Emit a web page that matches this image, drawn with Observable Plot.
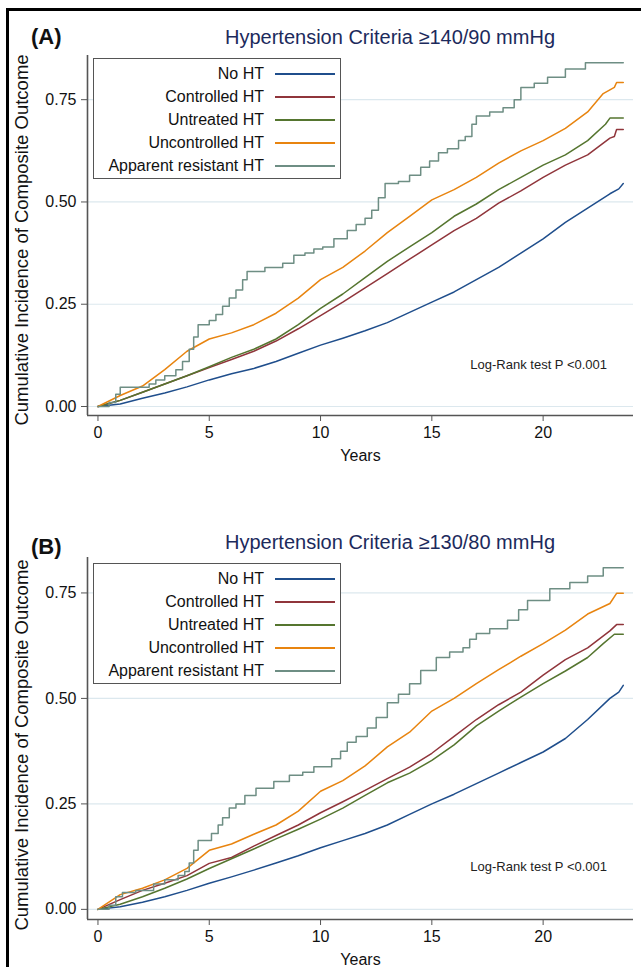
<!DOCTYPE html>
<html>
<head>
<meta charset="utf-8">
<script src="https://cdn.jsdelivr.net/npm/d3@7"></script>
<script src="https://cdn.jsdelivr.net/npm/@observablehq/plot@0.6"></script>
<style>
  body { margin: 0; background: #fff; }
  #root { position: relative; width: 641px; height: 967px; overflow: hidden; background: #fff;
          font-family: "Liberation Sans", Arial, sans-serif; color: #111; }
  .frameline { position: absolute; left: 6px; top: 8px; width: 700px; height: 1000px;
               border-top: 3px solid #000; border-left: 3px solid #000; }
  .panel-tag { position: absolute; font-weight: bold; font-size: 22px; line-height: 24px; }
  .title { position: absolute; width: 600px; text-align: center; font-size: 20px; line-height: 24px; color: #1c2a5c; }
  .ylab { position: absolute; width: 420px; text-align: center; font-size: 18.5px; line-height: 20px;
          transform-origin: center center; transform: rotate(-90deg); white-space: nowrap; color: #111; }
  .legend { position: absolute; width: 248px; height: 121px; border: 1px solid #555; background: #fff; box-sizing: border-box; }
  .legend .lab { position: absolute; right: 76px; font-size: 16px; line-height: 18px; white-space: nowrap; color: #111; }
  .legend .sw { position: absolute; left: 181px; width: 60px; height: 2px; }
  .plotbox { position: absolute; left: 0; }
</style>
</head>
<body>
<div id="root">
  <div class="frameline"></div>
</div>
<script>
// ---------- categories, colours, ticks ----------
const groups = ["No HT", "Controlled HT", "Untreated HT", "Uncontrolled HT", "Apparent resistant HT"];
const colors = ["#1f4e8c", "#90353b", "#55752f", "#e8840f", "#6e8e84"];
const stepGroup = "Apparent resistant HT";
const xTicks = [0, 5, 10, 15, 20];
const yTicks = [0, 0.25, 0.5, 0.75];
const xLabel = "Years";
const yLabel = "Cumulative Incidence of Composite Outcome";
const noteText = "Log-Rank test P <0.001";

// ---------- Panel A: ≥140/90 mmHg  [years, cumulative incidence] ----------
const titleA = "Hypertension Criteria ≥140/90 mmHg";
const tagA = "(A)";
const aNoHT = [[0,0],[1,0.006],[2,0.02],[3,0.033],[4,0.048],[5,0.065],[6,0.08],[7,0.093],[8,0.11],[9,0.13],[10,0.15],[11,0.167],[12,0.185],[13,0.205],[14,0.23],[15,0.255],[16,0.28],[17,0.31],[18,0.34],[19,0.375],[20,0.41],[21,0.45],[22,0.485],[23,0.52],[23.4,0.532],[23.6,0.545]];
const aControlled = [[0,0],[1,0.015],[2,0.035],[3,0.055],[4,0.075],[5,0.095],[6,0.115],[7,0.135],[8,0.16],[9,0.19],[10,0.222],[11,0.255],[12,0.29],[13,0.325],[14,0.36],[15,0.395],[16,0.43],[17,0.46],[18,0.497],[19,0.527],[20,0.56],[21,0.59],[22,0.615],[23,0.656],[23.2,0.66],[23.3,0.677],[23.6,0.677]];
const aUntreated = [[0,0],[1,0.015],[2,0.035],[3,0.055],[4,0.075],[5,0.097],[6,0.12],[7,0.14],[8,0.165],[9,0.2],[10,0.24],[11,0.275],[12,0.315],[13,0.355],[14,0.39],[15,0.425],[16,0.465],[17,0.495],[18,0.53],[19,0.56],[20,0.59],[21,0.615],[22,0.65],[22.8,0.69],[23.0,0.705],[23.6,0.705]];
const aUncontrolled = [[0,0],[1,0.027],[2,0.05],[3,0.09],[4,0.135],[5,0.165],[6,0.18],[7,0.2],[8,0.228],[9,0.265],[10,0.31],[11,0.34],[12,0.38],[13,0.425],[14,0.465],[15,0.505],[16,0.53],[17,0.56],[18,0.595],[19,0.625],[20,0.65],[21,0.68],[22,0.72],[22.7,0.765],[23.2,0.78],[23.3,0.792],[23.6,0.792]];
const aResistant = [[0,0],[0.5,0.01],[0.8,0.03],[1.0,0.047],[2.3,0.055],[2.6,0.065],[3.0,0.075],[3.5,0.09],[3.8,0.11],[4.1,0.14],[4.3,0.17],[4.5,0.2],[5.0,0.21],[5.3,0.225],[5.6,0.245],[5.9,0.265],[6.2,0.285],[6.5,0.31],[6.7,0.33],[7.5,0.34],[8.3,0.35],[8.8,0.37],[9.3,0.375],[9.7,0.385],[10.1,0.39],[10.6,0.41],[11.2,0.43],[11.6,0.445],[12.0,0.46],[12.3,0.48],[12.6,0.51],[12.9,0.545],[13.5,0.55],[14.0,0.565],[14.5,0.585],[14.9,0.6],[15.3,0.62],[15.7,0.63],[16.2,0.65],[16.5,0.66],[16.8,0.69],[17.0,0.71],[17.6,0.72],[18.2,0.73],[18.7,0.75],[19.0,0.78],[19.6,0.79],[20.2,0.805],[21.0,0.825],[21.9,0.84],[23.6,0.84]];

// ---------- Panel B: ≥130/80 mmHg ----------
const titleB = "Hypertension Criteria ≥130/80 mmHg";
const tagB = "(B)";
const bNoHT = [[0,0],[1,0.006],[2,0.017],[3,0.03],[4,0.045],[5,0.062],[6,0.077],[7,0.093],[8,0.11],[9,0.127],[10,0.146],[11,0.163],[12,0.18],[13,0.2],[14,0.225],[15,0.25],[16,0.273],[17,0.298],[18,0.323],[19,0.348],[20,0.373],[21,0.405],[22,0.45],[23,0.5],[23.4,0.515],[23.6,0.531]];
const bControlled = [[0,0],[1,0.023],[2,0.045],[3,0.062],[4,0.08],[5,0.109],[6,0.123],[7,0.15],[8,0.175],[9,0.2],[10,0.229],[11,0.255],[12,0.282],[13,0.31],[14,0.337],[15,0.37],[16,0.41],[17,0.45],[18,0.485],[19,0.515],[20,0.555],[21,0.592],[22,0.62],[23,0.66],[23.3,0.675],[23.6,0.675]];
const bUntreated = [[0,0],[1,0.012],[2,0.03],[3,0.05],[4,0.072],[5,0.097],[6,0.12],[7,0.143],[8,0.167],[9,0.19],[10,0.214],[11,0.24],[12,0.27],[13,0.3],[14,0.323],[15,0.353],[16,0.39],[17,0.435],[18,0.47],[19,0.503],[20,0.535],[21,0.565],[22,0.597],[22.7,0.63],[23.2,0.652],[23.6,0.652]];
const bUncontrolled = [[0,0],[1,0.035],[2,0.05],[3,0.07],[4,0.097],[5,0.14],[6,0.155],[7,0.178],[8,0.2],[9,0.233],[10,0.28],[11,0.305],[12,0.34],[13,0.385],[14,0.42],[15,0.47],[16,0.5],[17,0.535],[18,0.568],[19,0.6],[20,0.63],[21,0.662],[22,0.7],[23,0.725],[23.3,0.749],[23.6,0.749]];
const bResistant = [[0,0],[0.5,0.01],[0.8,0.03],[1.1,0.04],[1.7,0.045],[2.5,0.06],[3.0,0.07],[3.6,0.08],[3.9,0.09],[4.1,0.11],[4.3,0.14],[4.5,0.163],[5.1,0.18],[5.4,0.2],[5.6,0.217],[5.9,0.24],[6.2,0.25],[6.6,0.27],[7.1,0.287],[7.9,0.303],[8.6,0.318],[9.2,0.325],[9.7,0.338],[10.5,0.357],[10.9,0.375],[11.2,0.396],[11.6,0.41],[12.1,0.43],[12.5,0.455],[13.0,0.49],[13.5,0.51],[14.0,0.535],[14.5,0.566],[15.2,0.597],[15.8,0.61],[16.4,0.62],[16.7,0.64],[17.0,0.654],[17.6,0.665],[18.4,0.685],[18.9,0.71],[19.3,0.732],[20.3,0.76],[21.2,0.775],[22.0,0.79],[22.7,0.81],[23.6,0.81]];

// annotation positions (data units)
const noteA = [{t: 19.8, v: 0.103, text: noteText}];
const noteB = [{t: 19.8, v: 0.102, text: noteText}];

const xDomain = [-0.47, 24.06];
const yDomainA = [-0.022, 0.858];
const yDomainB = [-0.024, 0.834];

const root = document.getElementById("root");

function rows(seriesList) {
  return groups.flatMap((g, i) => seriesList[i].map(([t, v]) => ({t, v, g})));
}

function panel({top, height, mTop, mBottom, yDomain, series, note, tag, title, tagTop, titleTop, legendTop, ylabCenter}) {
  const data = rows(series);
  const plot = Plot.plot({
    width: 641,
    height,
    marginTop: mTop,
    marginBottom: mBottom,
    marginLeft: 87,
    marginRight: 8,
    style: {fontFamily: '"Liberation Sans", Arial, sans-serif', fontSize: "16px", color: "#111", background: "transparent", overflow: "visible"},
    x: {domain: xDomain},
    y: {domain: yDomain},
    color: {domain: groups, range: colors},
    marks: [
      Plot.gridY(yTicks, {stroke: "#dce8ee", strokeOpacity: 1, strokeWidth: 1.2}),
      Plot.axisY(yTicks, {tickSize: 6, tickPadding: 5, tickFormat: d3.format(".2f"), stroke: "#555", fontSize: 16, label: null}),
      Plot.axisX(xTicks, {tickSize: 6, tickPadding: 5, stroke: "#555", fontSize: 16,
        label: xLabel, labelAnchor: "center", labelArrow: "none", labelOffset: 45}),
      Plot.ruleX([xDomain[0]], {stroke: "#555", strokeWidth: 1.6}),
      Plot.ruleY([yDomain[0]], {stroke: "#555", strokeWidth: 1.6}),
      Plot.line(data.filter(d => d.g !== stepGroup), {x: "t", y: "v", z: "g", stroke: "g", strokeWidth: 1.5, curve: "linear"}),
      Plot.line(data.filter(d => d.g === stepGroup), {x: "t", y: "v", z: "g", stroke: "g", strokeWidth: 1.5, curve: "step-after"}),
      Plot.text(note, {x: "t", y: "v", text: "text", fontSize: 13, fill: "#222"})
    ]
  });
  const box = document.createElement("div");
  box.className = "plotbox";
  box.style.top = top + "px";
  box.appendChild(plot);
  root.appendChild(box);

  const yl = document.createElement("div");
  yl.className = "ylab"; yl.textContent = yLabel;
  yl.style.left = (22 - 210) + "px"; yl.style.top = (ylabCenter - 10) + "px";
  root.appendChild(yl);

  const tg = document.createElement("div");
  tg.className = "panel-tag"; tg.textContent = tag;
  tg.style.left = "31px"; tg.style.top = tagTop + "px";
  root.appendChild(tg);

  const tt = document.createElement("div");
  tt.className = "title"; tt.textContent = title;
  tt.style.left = (390 - 300) + "px"; tt.style.top = titleTop + "px";
  root.appendChild(tt);

  const lg = document.createElement("div");
  lg.className = "legend";
  lg.style.left = "93px"; lg.style.top = legendTop + "px";
  groups.forEach((g, i) => {
    const cy = 15 + i * 23;
    const lab = document.createElement("div");
    lab.className = "lab"; lab.textContent = g;
    lab.style.top = (cy - 9) + "px";
    lg.appendChild(lab);
    const sw = document.createElement("div");
    sw.className = "sw";
    sw.style.top = (cy - 1) + "px";
    sw.style.background = colors[i];
    lg.appendChild(sw);
  });
  root.appendChild(lg);
}

panel({top: 0, height: 480, mTop: 55, mBottom: 65, yDomain: yDomainA,
  series: [aNoHT, aControlled, aUntreated, aUncontrolled, aResistant], note: noteA,
  tag: tagA, title: titleA, tagTop: 25, titleTop: 25, legendTop: 58, ylabCenter: 240});

panel({top: 490, height: 477, mTop: 67, mBottom: 48, yDomain: yDomainB,
  series: [bNoHT, bControlled, bUntreated, bUncontrolled, bResistant], note: noteB,
  tag: tagB, title: titleB, tagTop: 535, titleTop: 530, legendTop: 563, ylabCenter: 745});
</script>
</body>
</html>
